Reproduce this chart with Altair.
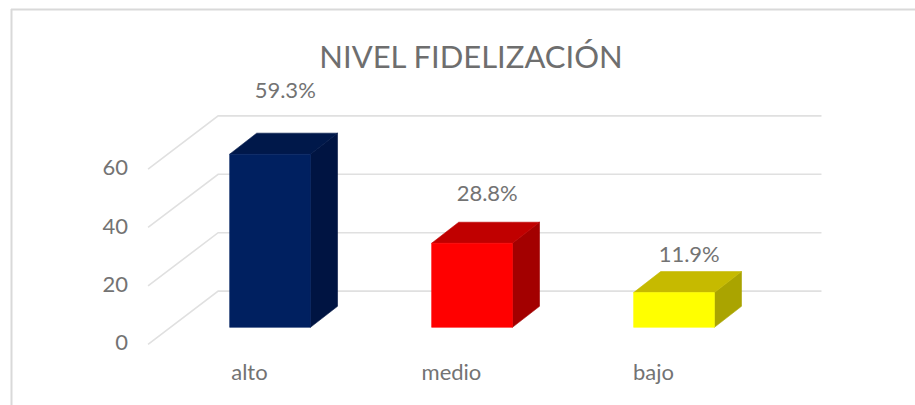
import altair as alt
import pandas as pd

categories = ["alto", "medio", "bajo"]
values = [59.3, 28.8, 11.9]
value_labels = ["59.3%", "28.8%", "11.9%"]
front_colors = ["#002060", "#ff0000", "#ffff00"]
top_colors = ["#00184a", "#c00000", "#c6ba00"]
side_colors = ["#001442", "#a30000", "#aaa400"]
axis_ticks = [0, 20, 40, 60]
chart_title = "NIVEL FIDELIZACIÓN"

# Oblique projection, in data units (one x unit is one category slot)
BAR_W = 0.40
BAR_DX, BAR_DY = 0.134, 7.2
WALL_DX, WALL_DY = 0.347, 18.2
AXIS_FLOOR = -5.8
WALL_LEFT, WALL_RIGHT = -0.257, 2.73
X_DOMAIN = [-1.337, 3.193]
Y_DOMAIN = [-26.6, 112.1]
LABEL_LIFT = [14.5, 9.7, 5.8]
LABEL_SHIFT = 0.075

x_scale = alt.Scale(domain=X_DOMAIN, range=[0, 915], nice=False, zero=False)
y_scale = alt.Scale(domain=Y_DOMAIN, range=[405, 0], nice=False, zero=False)
X = alt.X("x:Q", scale=x_scale, axis=None)
Y = alt.Y("y:Q", scale=y_scale, axis=None, stack=None)

# Back wall gridlines and the floor-to-wall diagonals
grid_rows = []
for t in axis_ticks:
    wall_y = t + AXIS_FLOOR + WALL_DY
    grid_rows += [
        {"line": t, "s": 0, "x": WALL_LEFT - WALL_DX, "y": t + AXIS_FLOOR},
        {"line": t, "s": 1, "x": WALL_LEFT, "y": wall_y},
        {"line": t, "s": 2, "x": WALL_RIGHT, "y": wall_y},
    ]
grid = alt.Chart(pd.DataFrame(grid_rows)).mark_line(
    color="#e0e0e0", strokeWidth=1.6
).encode(X, Y, detail="line:N", order="s:Q")


def face(color, points):
    """One flat face of a bar: an area between a lower and an upper edge."""
    df = pd.DataFrame(points, columns=["x", "low", "high"])
    return alt.Chart(df).mark_area(
        color=color, stroke=color, strokeWidth=0.6, opacity=1, interpolate="linear"
    ).encode(
        X, alt.Y("low:Q", scale=y_scale, axis=None, stack=None), alt.Y2("high:Q")
    )


# Each bar is three faces: front, right side and top
bar_faces = []
for i, (v, fc, tc, sc) in enumerate(zip(values, front_colors, top_colors, side_colors)):
    x0, x1 = i - BAR_W / 2, i + BAR_W / 2
    bar_faces += [
        face(sc, [(x1, 0, v), (x1 + BAR_DX, BAR_DY, v + BAR_DY)]),
        face(tc, [(x0, v, v), (x0 + BAR_DX, v, v + BAR_DY), (x1, v, v + BAR_DY),
                  (x1 + BAR_DX, v + BAR_DY, v + BAR_DY)]),
        face(fc, [(x0, 0, v), (x1, 0, v)]),
    ]

text_style = dict(font="Lato", color="#737373", fontSize=22)

# Value labels sit above the top face of their bar
value_df = pd.DataFrame({
    "x": [i + LABEL_SHIFT for i in range(3)],
    "y": [v + BAR_DY + lift for v, lift in zip(values, LABEL_LIFT)],
    "label": value_labels,
})
value_text = alt.Chart(value_df).mark_text(**text_style).encode(X, Y, text="label:N")

cat_df = pd.DataFrame({"x": [i - 0.102 for i in range(3)], "y": -15.8, "label": categories})
cat_text = alt.Chart(cat_df).mark_text(**text_style).encode(X, Y, text="label:N")

tick_df = pd.DataFrame({"x": -0.703, "y": [t + AXIS_FLOOR + 0.3 for t in axis_ticks],
                        "label": [str(t) for t in axis_ticks]})
tick_text = alt.Chart(tick_df).mark_text(align="right", **text_style).encode(X, Y, text="label:N")

title_df = pd.DataFrame({"x": [0.995], "y": [92.0], "label": [chart_title]})
title_text = alt.Chart(title_df).mark_text(font="Lato", color="#6e6e6e", fontSize=31).encode(X, Y, text="label:N")

# Thin frame along the top and left edges of the chart area
rule_src = pd.DataFrame({"a": [0]})
frame_top = alt.Chart(rule_src).mark_rule(color="#d9d9d9", strokeWidth=2).encode(
    x=alt.value(11), x2=alt.value(915), y=alt.value(9.5))
frame_left = alt.Chart(rule_src).mark_rule(color="#d9d9d9", strokeWidth=2).encode(
    x=alt.value(11.5), y=alt.value(9), y2=alt.value(405))

chart = alt.layer(
    frame_top, frame_left, grid, *bar_faces, value_text, cat_text, tick_text, title_text
).properties(
    width=915, height=405, padding=0, autosize=alt.AutoSizeParams(type="none"), background="white"
).configure_view(stroke=None)

chart.save("out.html", embed_options={"renderer": "svg", "actions": False})
